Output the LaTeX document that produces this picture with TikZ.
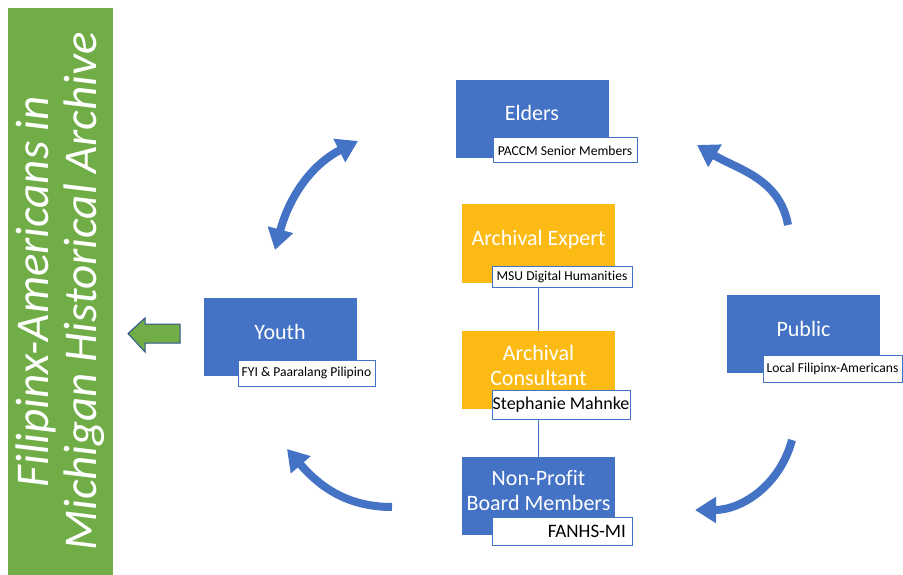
\documentclass[tikz,border=0pt]{standalone}
\usepackage{fontspec}
\setmainfont{Carlito}[Ligatures=NoCommon]
\usetikzlibrary{positioning,backgrounds,arrows.meta,calc}
\definecolor{roleblue}{HTML}{4472C4}
\definecolor{roleorange}{HTML}{FBBA14}
\definecolor{bargreen}{HTML}{70AD47}
\definecolor{edgeblue}{HTML}{2F528F}
\tikzset{
  role/.style   = {rectangle, inner sep=0pt, minimum width=153pt,
                   minimum height=78pt, fill=roleblue},
  expert/.style = {role, fill=roleorange},
  rolelabel/.style = {text=white, align=center,
                   font=\fontsize{22}{25}\selectfont},
  tag/.style    = {rectangle, draw=roleblue, line width=1pt, fill=white,
                   inner sep=0pt, font=\fontsize{13.6}{15}\selectfont},
  flow/.style   = {line width=8pt, draw=roleblue},
  link/.style   = {draw=roleblue, line width=1pt},
  title/.style  = {fill=bargreen, rotate=90, minimum width=567pt,
                   minimum height=105pt, text=white, align=center,
                   font=\itshape\fontsize{47}{48}\selectfont}
}

\begin{document}
\begin{tikzpicture}[x=1pt,y=1pt,>={Triangle[length=21pt,width=25pt]}]
  \useasboundingbox (0,0) rectangle (903,-575);

  % title bar and its arrow
  \node[title] (bar) at (60.5,-291.5) {Filipinx-Americans in\\Michigan Historical Archive};
  \draw[fill=bargreen, draw=edgeblue, line width=1pt]
    (128,-333.5) -- (145,-318) -- (145,-324) -- (180,-324) -- (180,-343)
    -- (145,-343) -- (145,-352) -- cycle;

  % roles
  \node[role] (elders) at (532,-119) {};
  \node[rolelabel] (elders-t) at ([yshift=6pt]elders.center) {Elders};
  \node[tag, minimum width=144pt, minimum height=25pt] (elders-tag) at (565,-150.5) {PACCM Senior Members};

  \node[expert] (expert) at (538.5,-243.5) {};
  \node[rolelabel] (expert-t) at ([yshift=4pt]expert.center) {Archival Expert};
  \node[tag, minimum width=140pt, minimum height=21pt] (expert-tag) at (562,-276.5) {MSU Digital Humanities};

  \node[expert] (consultant) at (538.5,-370) {};
  \node[rolelabel] (consultant-t) at ([yshift=5pt]consultant.center) {Archival\\Consultant};
  \node[tag, minimum width=138pt, minimum height=29pt, font=\fontsize{18}{20}\selectfont] (consultant-tag) at (561,-404.5) {Stephanie Mahnke};

  \node[role] (nonprofit) at (538.5,-496) {};
  \node[rolelabel] (nonprofit-t) at ([yshift=5pt]nonprofit.center) {Non-Profit\\Board Members};
  \node[tag, minimum width=140pt, minimum height=28pt, text width=128pt, align=right,
        font=\fontsize{19}{21}\selectfont] (nonprofit-tag) at (562,-531) {FANHS-MI};

  \node[role] (youth) at (280,-336.5) {};
  \node[rolelabel] (youth-t) at ([yshift=5pt]youth.center) {Youth};
  \node[tag, minimum width=137pt, minimum height=26pt] (youth-tag) at (306.5,-373) {FYI \& Paaralang Pilipino};

  \node[role] (public) at (803.5,-334) {};
  \node[rolelabel] (public-t) at ([yshift=5pt]public.center) {Public};
  \node[tag, minimum width=139pt, minimum height=27pt] (public-tag) at (832.5,-368.5) {Local Filipinx-Americans};

  \begin{scope}[on background layer]
    \draw[link] (expert) -- (consultant) -- (nonprofit);
  \end{scope}

  % cycle arrows
  \coordinate (yl) at (275,-250);
  \coordinate (el) at (358,-141);
  \coordinate (pu) at (788,-225);
  \coordinate (er) at (697,-145);
  \coordinate (pd) at (792,-440);
  \coordinate (nr) at (695,-510);
  \coordinate (nl) at (392,-507);
  \coordinate (yd) at (287,-449);
  \draw[flow, <->] (yl) to[out=75, in=-153] (el);
  \draw[flow, ->] (pu) to[out=100, in=-31] (er);
  \draw[flow, ->] (pd) to[out=-105, in=0] (nr);
  \draw[flow, ->] (nl) to[out=180, in=-49] (yd);
\end{tikzpicture}
\end{document}
